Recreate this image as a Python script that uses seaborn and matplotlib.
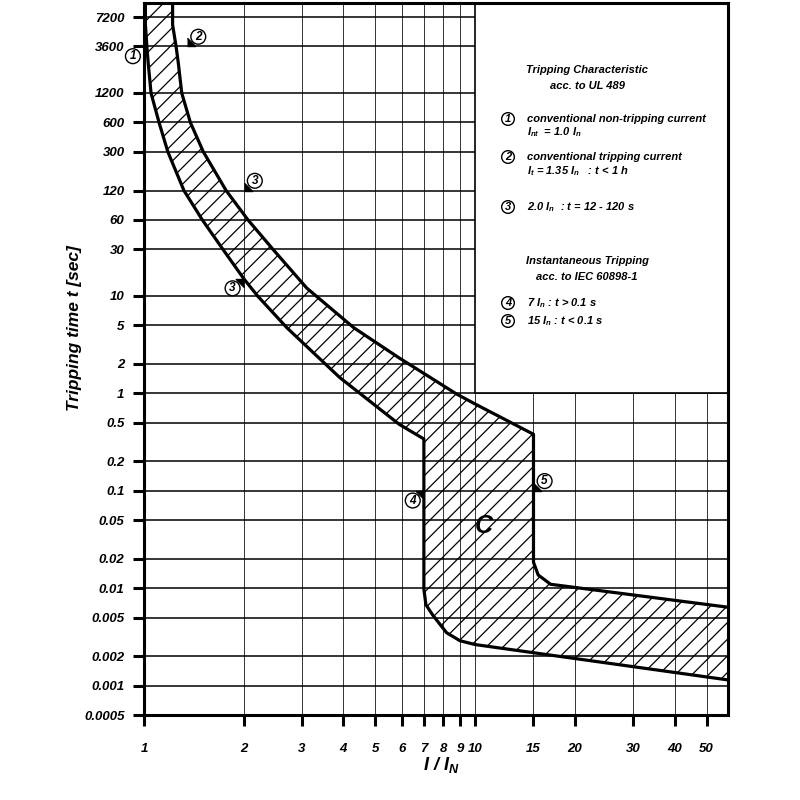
import numpy as np
import pandas as pd
import seaborn as sns
import matplotlib.pyplot as plt
from matplotlib.patches import Rectangle

# band boundaries (I/In, tripping time in s)
lower_x = [1.01, 1.01, 1.02, 1.03, 1.05, 1.11, 1.18, 1.24, 1.32, 1.50, 1.73, 2.0, 2.2, 2.7,
           3.9, 5.9, 7.0, 7.0, 7.1, 7.45, 8.2, 9.0, 10.0, 58]
lower_t = [10000, 6000, 3600, 2400, 1200, 600, 300, 200, 120, 60, 30, 15, 10, 4.7,
           1.45, 0.48, 0.34, 0.0098, 0.0068, 0.0053, 0.0035, 0.0029, 0.00265, 0.00115]
upper_x = [1.22, 1.22, 1.25, 1.27, 1.30, 1.38, 1.51, 1.62, 1.77, 2.06, 2.45, 3.1, 4.3, 5.9,
           8.8, 9.9, 15.0, 15.0, 15.5, 16.9, 58]
upper_t = [10000, 6000, 3600, 2400, 1200, 600, 300, 200, 120, 60, 30, 12, 4.7, 2.3,
           0.98, 0.79, 0.38, 0.0185, 0.0137, 0.011, 0.0064]

y_ticks = [7200, 3600, 1200, 600, 300, 120, 60, 30, 10, 5, 2, 1, 0.5, 0.2, 0.1, 0.05,
           0.02, 0.01, 0.005, 0.002, 0.001, 0.0005]
y_labels = ["7200", "3600", "1200", "600", "300", "120", "60", "30", "10", "5", "2", "1",
            "0.5", "0.2", "0.1", "0.05", "0.02", "0.01", "0.005", "0.002", "0.001", "0.0005"]
x_ticks = [1, 2, 3, 4, 5, 6, 7, 8, 9, 10, 15, 20, 30, 40, 50]
x_labels = [str(v) for v in x_ticks]

# numbered reference points on the curve
mark_labels = ["1", "2", "3", "3", "4", "5"]
mark_x = [1.0, 1.35, 2.0, 2.0, 7.0, 15.0]
mark_t = [3600, 3600, 120, 15, 0.1, 0.1]
mark_side = [-1, 1, 1, -1, -1, 1]

sns.set_theme(style="ticks", rc={"axes.edgecolor": "black", "xtick.color": "black",
                                 "ytick.color": "black", "text.color": "black"})
plt.rcParams["font.family"] = ["Liberation Sans", "DejaVu Sans"]
plt.rcParams["font.style"] = "italic"
plt.rcParams["font.weight"] = "bold"
plt.rcParams["mathtext.fontset"] = "custom"
plt.rcParams["mathtext.it"] = "Liberation Sans:italic:bold"
plt.rcParams["mathtext.rm"] = "Liberation Sans:italic:bold"
plt.rcParams["mathtext.bf"] = "Liberation Sans:italic:bold"
plt.rcParams["hatch.linewidth"] = 0.9

fig = plt.figure(figsize=(8, 8), dpi=100)
ax = fig.add_axes([0.18, 0.106, 0.73, 0.89])
ax.set_xscale("log")
ax.set_yscale("log")
ax.set_xlim(1, 58)
ax.set_ylim(0.0005, 10000)

ax.set_xticks(x_ticks)
ax.set_xticklabels(x_labels)
ax.set_yticks(y_ticks)
ax.set_yticklabels(y_labels)
ax.xaxis.set_minor_locator(plt.NullLocator())
ax.yaxis.set_minor_locator(plt.NullLocator())
ax.tick_params(direction="out", length=8, width=2.2, labelsize=9.5)
ax.tick_params(axis="x", pad=12)
ax.tick_params(axis="y", pad=6)

ax.set_axisbelow(True)
ax.grid(axis="y", color="black", lw=1.1)
ax.grid(axis="x", color="#333333", lw=0.7)
for s in ax.spines.values():
    s.set_linewidth(2.2)

# blank box for the notes (upper right)
ax.add_patch(Rectangle((10, 1), 58 - 10, 10000 - 1, facecolor="white", edgecolor="black",
                       lw=1.2, zorder=1))

# hatched band
band_x = np.r_[lower_x, upper_x[::-1]]
band_t = np.r_[lower_t, upper_t[::-1]]
ax.fill(band_x, band_t, facecolor="none", edgecolor="black", lw=0, hatch="//", zorder=2)
sns.lineplot(x=lower_x, y=lower_t, sort=False, estimator=None, color="black", lw=2.3,
             ax=ax, zorder=3)
sns.lineplot(x=upper_x, y=upper_t, sort=False, estimator=None, color="black", lw=2.3,
             ax=ax, zorder=3)

circ = dict(boxstyle="circle,pad=0.12", fc="white", ec="black", lw=1.0)
for lab, mx, mt, sd in zip(mark_labels, mark_x, mark_t, mark_side):
    tri = [(0, 0), (sd, 0), (0, sd)]
    ax.scatter([mx], [mt], marker=tri, s=140, color="black", zorder=4)
    ax.annotate(lab, xy=(mx, mt), xytext=(sd * 8, sd * 7), textcoords="offset points",
                ha="center", va="center", fontsize=8.5, bbox=circ, zorder=5)

ax.text(10.6, 0.044, "C", fontsize=18, ha="center", va="center", zorder=5)

# notes
fig.text(587 / 800, 1 - 70 / 800, "Tripping Characteristic", ha="center", va="center", fontsize=8)
fig.text(587 / 800, 1 - 86 / 800, "acc. to UL 489", ha="center", va="center", fontsize=8)
fig.text(587 / 800, 1 - 261 / 800, "Instantaneous Tripping", ha="center", va="center", fontsize=8)
fig.text(587 / 800, 1 - 277 / 800, "acc. to IEC 60898-1", ha="center", va="center", fontsize=8)

note_num = ["1", "2", "3", "4", "5"]
note_y = [119, 157, 207, 303, 321]
note_txt = ["conventional non-tripping current", "conventional tripping current",
            r"2.0 $I_n$  : t = 12 - 120 s", r"7 $I_n$ : t > 0.1 s", r"15 $I_n$ : t < 0.1 s"]
for n, yy, tx in zip(note_num, note_y, note_txt):
    fig.text(508 / 800, 1 - yy / 800, n, ha="center", va="center", fontsize=8, bbox=circ)
    fig.text(527 / 800, 1 - yy / 800, tx, ha="left", va="center", fontsize=8)
fig.text(527 / 800, 1 - 132 / 800, r"$I_{nt}$  = 1.0 $I_n$", ha="left", va="center", fontsize=8)
fig.text(527 / 800, 1 - 171 / 800, r"$I_t$ = 1.35 $I_n$   : t < 1 h", ha="left", va="center",
         fontsize=8)

fig.text(75 / 800, 1 - 328 / 800, "Tripping time t [sec]", rotation=90, ha="center",
         va="center", fontsize=12.5)
fig.text(442 / 800, 1 - 765 / 800, r"$I\ /\ I_N$", ha="center", va="center", fontsize=13)

fig.savefig("out.png", dpi=100)
